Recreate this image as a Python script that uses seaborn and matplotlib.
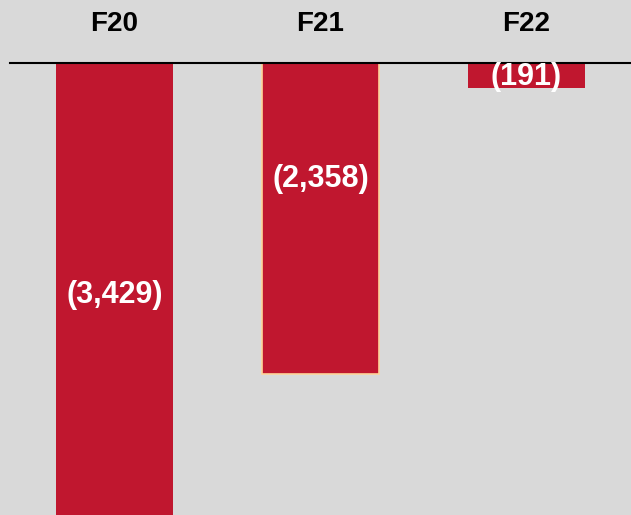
import matplotlib
matplotlib.use("Agg")
import matplotlib.pyplot as plt
import seaborn as sns
import pandas as pd

# ========= DADOS ==========
categorias = ["F20", "F21", "F22"]
valores = [-3429, -2358, -191]
rotulos = ["(3,429)", "(2,358)", "(191)"]
# posição vertical dos rótulos (em unidades do eixo)
pos_rotulos = [-1760, -880, -107]

df = pd.DataFrame({"ano": categorias, "valor": valores})

# ========= ESTILO ==========
fundo = "#d9d9d9"
vermelho = "#c0172f"
sns.set_style("white")
plt.rcParams["font.family"] = ["Liberation Sans", "DejaVu Sans"]

fig = plt.figure(figsize=(6.31, 5.15), dpi=100, facecolor=fundo)
ax = fig.add_axes([10 / 631, 0, 1 - 10 / 631, 1 - 63 / 515])
ax.set_facecolor(fundo)

sns.barplot(data=df, x="ano", y="valor", color=vermelho, saturation=1,
            width=0.568, ax=ax)

for p in ax.patches:
    p.set_edgecolor(vermelho)
    p.set_linewidth(0)
# borda clara na barra F21
ax.patches[1].set_edgecolor("#ffd59a")
ax.patches[1].set_linewidth(1.2)

for i, (txt, y) in enumerate(zip(rotulos, pos_rotulos)):
    ax.text(i, y, txt, ha="center", va="center", color="white",
            fontsize=22, fontweight="bold")

ax.set_xlim(-0.507, 2.508)
ax.set_ylim(-3430, 0)
ax.xaxis.tick_top()
ax.tick_params(axis="x", length=0, pad=19, labelsize=20, labelcolor="black")
for lbl in ax.get_xticklabels():
    lbl.set_fontweight("bold")
ax.set_yticks([])
ax.set_xlabel("")
ax.set_ylabel("")
for s in ["left", "right", "bottom"]:
    ax.spines[s].set_visible(False)
ax.spines["top"].set_color("black")
ax.spines["top"].set_linewidth(1.5)

fig.savefig("out.png", dpi=100, facecolor=fundo)
